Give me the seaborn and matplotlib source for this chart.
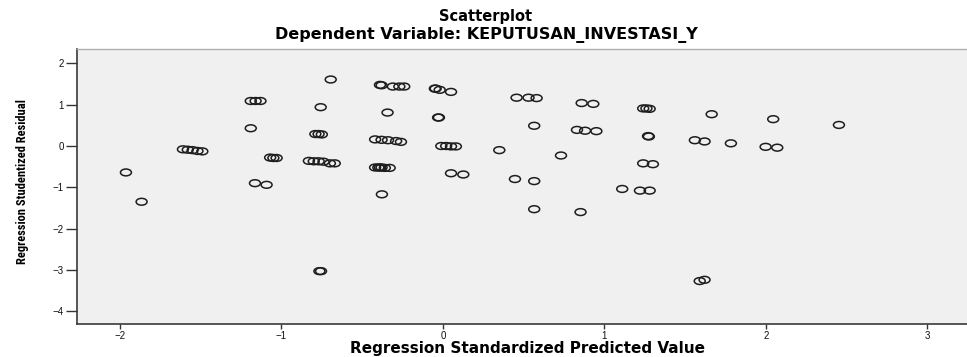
import numpy as np
import pandas as pd
import matplotlib
matplotlib.use("Agg")
import matplotlib.pyplot as plt
from matplotlib.path import Path
from matplotlib.markers import MarkerStyle
from matplotlib import font_manager
import seaborn as sns

# values
pred_value = [
    -1.963, -1.866,
    -1.61, -1.58, -1.55, -1.52, -1.49,
    -1.19, -1.16, -1.13, -1.19,
    -1.07, -1.05, -1.03, -1.164, -1.092,
    -0.695, -0.757, -0.79, -0.77, -0.75,
    -0.83, -0.80, -0.77, -0.74, -0.70, -0.67,
    -0.765, -0.755,
    -0.39, -0.38, -0.31, -0.27, -0.24,
    -0.05, -0.045, -0.02, 0.05,
    -0.343, -0.03, -0.025,
    -0.42, -0.38, -0.34, -0.29, -0.26,
    -0.01, 0.02, 0.05, 0.08,
    -0.42, -0.40, -0.39, -0.38, -0.36, -0.33,
    -0.378, 0.05, 0.126, 0.349, 0.446, 0.565,
    0.456, 0.53, 0.58, 0.565, 0.731,
    0.859, 0.931, 0.83, 0.88, 0.95,
    0.565, 0.852,
    1.24, 1.26, 1.28, 1.27, 1.275,
    1.24, 1.30, 1.11, 1.22, 1.28,
    1.664, 2.045, 2.452, 1.56, 1.62, 1.783, 1.998, 2.07,
    1.59, 1.62,
]
stud_resid = [
    -0.64, -1.35,
    -0.08, -0.09, -0.10, -0.12, -0.13,
    1.09, 1.09, 1.09, 0.43,
    -0.28, -0.29, -0.29, -0.90, -0.94,
    1.61, 0.94, 0.29, 0.29, 0.28,
    -0.36, -0.37, -0.37, -0.38, -0.42, -0.42,
    -3.03, -3.03,
    1.48, 1.47, 1.44, 1.44, 1.44,
    1.39, 1.39, 1.36, 1.31,
    0.81, 0.69, 0.69,
    0.16, 0.15, 0.14, 0.12, 0.10,
    0.00, 0.00, -0.01, -0.01,
    -0.52, -0.52, -0.52, -0.52, -0.53, -0.53,
    -1.17, -0.66, -0.69, -0.10, -0.80, -0.85,
    1.17, 1.17, 1.16, 0.49, -0.23,
    1.04, 1.02, 0.39, 0.37, 0.36,
    -1.53, -1.60,
    0.91, 0.91, 0.90, 0.24, 0.23,
    -0.42, -0.44, -1.04, -1.08, -1.08,
    0.77, 0.65, 0.51, 0.14, 0.11, 0.065, -0.02, -0.04,
    -3.27, -3.24,
]
x_ticks = [-2, -1, 0, 1, 2, 3]
y_ticks = [-4, -3, -2, -1, 0, 1, 2]

df = pd.DataFrame({"pred": pred_value, "resid": stud_resid})

sns.set_theme(style="ticks")
plt.rcParams["font.family"] = ["Liberation Sans", "DejaVu Sans"]

# the y label in the reference is a narrow bold face; use one if there is one
fonts = font_manager.fontManager.ttflist
names = {f.name for f in fonts}
ylab_kw = dict(family=["Liberation Sans", "DejaVu Sans"], fontsize=7.9)
for fam, size in [("Liberation Sans Narrow", 9.5), ("Roboto Condensed", 9)]:
    if fam in names:
        ylab_kw = dict(family=[fam, "DejaVu Sans"], fontsize=size)
        break
else:
    if any(f.name == "DejaVu Sans" and f.stretch == "condensed" for f in fonts):
        ylab_kw = dict(family=["DejaVu Sans"], fontsize=7.8, fontstretch="condensed")

W, H = 967, 357
fig = plt.figure(figsize=(W / 100, H / 100), dpi=100)
ax = fig.add_axes([77 / W, 1 - 324 / H, (W - 77) / W, 275 / H])
ax.set_facecolor("#f0f0f0")

# the picture is stretched sideways, so the circles are wide ellipses
circ = Path.unit_circle()
ellipse = Path(circ.vertices * np.array([1.6, 1.0]), circ.codes)

sns.scatterplot(data=df, x="pred", y="resid", ax=ax,
                marker=MarkerStyle(ellipse), s=62,
                facecolors="none", edgecolors="#1e1e1e", linewidths=1.1)

ax.set_xlim(-2.266, 3.245)
ax.set_ylim(-4.31, 2.349)
ax.set_xticks(x_ticks)
ax.set_yticks(y_ticks)
ax.set_xlabel("")
ax.set_ylabel("")
ax.tick_params(axis="x", length=3.8, width=1.0, color="#333333",
               labelsize=7, pad=1.5, labelcolor="#111111")
ax.tick_params(axis="y", length=8, width=1.0, color="#333333",
               labelsize=7, pad=1.5, labelcolor="#111111")

for side in ["left", "bottom"]:
    ax.spines[side].set_color("#3a3a3a")
    ax.spines[side].set_linewidth(1.2)
ax.spines["top"].set_visible(True)
ax.spines["top"].set_color("#b0b0b0")
ax.spines["top"].set_linewidth(1.0)
ax.spines["right"].set_visible(False)

fig.text(486 / W, 1 - 16 / H, "Scatterplot", ha="center", va="center",
         fontsize=10.5, fontweight="bold", family=["DejaVu Sans"], color="black")
fig.text(486 / W, 1 - 35 / H, "Dependent Variable: KEPUTUSAN_INVESTASI_Y",
         ha="center", va="center", fontsize=11.5, fontweight="bold",
         family=["DejaVu Sans"], color="black")
fig.text(527 / W, 1 - 352.5 / H, "Regression Standardized Predicted Value",
         ha="center", va="baseline", fontsize=11, fontweight="bold",
         family=["DejaVu Sans"], color="black")
fig.text(23 / W, 1 - 182 / H, "Regression Studentized Residual",
         rotation=90, ha="center", va="center", fontweight="bold",
         color="black", **ylab_kw)

fig.savefig("out.png", dpi=100, facecolor="white")
